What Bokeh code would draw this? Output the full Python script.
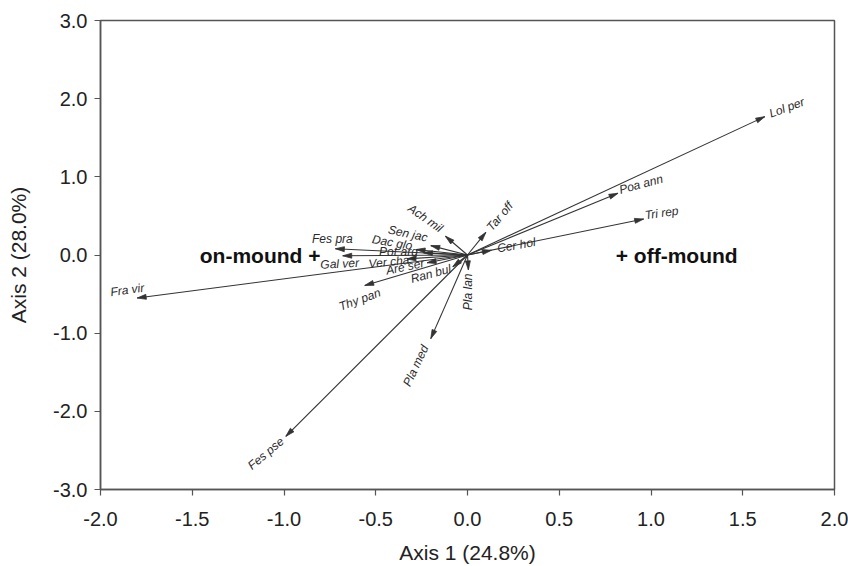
import numpy as np
from bokeh.plotting import figure
from bokeh.models import Range1d, FixedTicker, ColumnDataSource, Label
from bokeh.core.properties import value
from bokeh.embed import file_html
from bokeh.resources import INLINE

# ---- data: species scores (arrow tips) ----
species = ["Lol per", "Poa ann", "Tri rep", "Cer hol", "Tar off", "Ach mil",
           "Sen jac", "Dac glo", "Pot arg", "Ver cha", "Are ser", "Ran bul",
           "Thy pan", "Pla lan", "Pla med", "Fes pse", "Fra vir", "Fes pra",
           "Gal ver"]
axis1 = [1.62, 0.82, 0.96, 0.13, 0.10, -0.12,
         -0.20, -0.28, -0.24, -0.33, -0.22, -0.08,
         -0.56, 0.005, -0.20, -0.99, -1.80, -0.72,
         -0.68]
axis2 = [1.77, 0.79, 0.46, 0.06, 0.29, 0.24,
         0.12, 0.07, 0.03, -0.05, -0.10, -0.15,
         -0.39, -0.19, -1.07, -2.32, -0.55, 0.08,
         -0.01]

groups = ["on-mound +", "+ off-mound"]
group_x = [-1.13, 1.14]
group_y = [0.0, 0.0]

xticks = [-2.0, -1.5, -1.0, -0.5, 0.0, 0.5, 1.0, 1.5, 2.0]
yticks = [-3.0, -2.0, -1.0, 0.0, 1.0, 2.0, 3.0]
xtick_labels = ["-2.0", "-1.5", "-1.0", "-0.5", "0.0", "0.5", "1.0", "1.5", "2.0"]
ytick_labels = ["-3.0", "-2.0", "-1.0", "0.0", "1.0", "2.0", "3.0"]
xlabel = "Axis 1 (24.8%)"
ylabel = "Axis 2 (28.0%)"

# ---- label styling (pixel offsets from tip, rotation in degrees) ----
style = {
    "Lol per": (22, -9, 20), "Poa ann": (23, -9, 15), "Tri rep": (18, -6, 8),
    "Cer hol": (25, -5, 10), "Tar off": (14, -16, 50), "Ach mil": (-20, -18, -35),
    "Sen jac": (-23, -12, -12), "Dac glo": (-24, -7, -10), "Pot arg": (-25, -1, 0),
    "Ver cha": (-18, 3, 6), "Are ser": (-22, 4, 12), "Ran bul": (-22, 7, 15),
    "Thy pan": (-5, 14, 20), "Pla lan": (0, 22, 90), "Pla med": (-15, 27, 65),
    "Fes pse": (-20, 17, 40), "Fra vir": (-10, -8, 8), "Fes pra": (-3, -10, 0),
    "Gal ver": (-3, 8, 3),
}

W, H = 848, 566
BL, BR, BT, BB = 100, 14, 20, 75
XR, YR = (-2.0, 2.0), (-3.0, 3.0)

p = figure(width=W, height=H, output_backend="svg", toolbar_location=None,
           x_range=Range1d(*XR), y_range=Range1d(*YR),
           min_border_left=BL, min_border_right=BR,
           min_border_top=BT, min_border_bottom=BB)
p.grid.visible = False
p.background_fill_color = "white"
p.border_fill_color = "white"
p.outline_line_color = "#555555"
p.outline_line_width = 1.5

for ax, ticks, labs in ((p.xaxis[0], xticks, xtick_labels), (p.yaxis[0], yticks, ytick_labels)):
    ax.ticker = FixedTicker(ticks=ticks)
    ax.major_label_overrides = {t: l for t, l in zip(ticks, labs)}
    ax.minor_tick_line_color = None
    ax.major_tick_in = 0
    ax.major_tick_out = 6
    ax.axis_line_color = "#555555"
    ax.axis_line_width = 1.5
    ax.major_tick_line_color = "#555555"
    ax.major_tick_line_width = 1.2
    ax.major_label_text_font = "Liberation Sans"
    ax.major_label_text_font_size = "20px"
    ax.major_label_text_color = "#222222"
    ax.axis_label_text_font = "Liberation Sans"
    ax.axis_label_text_font_size = "21px"
    ax.axis_label_text_font_style = "normal"
    ax.axis_label_text_color = "#222222"
p.xaxis.axis_label = xlabel
p.yaxis.axis_label = ylabel
p.xaxis.major_label_standoff = 16
p.yaxis.major_label_standoff = 7
p.xaxis.axis_label_standoff = 12
p.yaxis.axis_label_standoff = 20

# ---- arrows ----
x = np.array(axis1)
y = np.array(axis2)
sx = (W - BL - BR) / (XR[1] - XR[0])
sy = (H - BT - BB) / (YR[1] - YR[0])

p.segment(x0=0, y0=0, x1=x, y1=y, line_color="#333333", line_width=1.1)

hl, hw = 9.0, 2.5
head_xs, head_ys = [], []
for xi, yi in zip(x, y):
    dx, dy = xi * sx, yi * sy
    L = np.hypot(dx, dy)
    ux, uy = dx / L, dy / L
    bx, by = dx - hl * ux, dy - hl * uy
    nx, ny = -uy, ux
    pts = [(dx, dy), (bx + hw * nx, by + hw * ny), (bx - hw * nx, by - hw * ny)]
    head_xs.append([px_ / sx for px_, _ in pts])
    head_ys.append([py_ / sy for _, py_ in pts])
p.patches(head_xs, head_ys, fill_color="#333333", line_color="#333333", line_width=0.8)

# ---- species labels ----
src = ColumnDataSource(dict(
    x=x, y=y, text=species,
    xo=[style[s][0] for s in species],
    yo=[style[s][1] for s in species],
    ang=[np.deg2rad(style[s][2]) for s in species],
))
p.text(x="x", y="y", text="text", x_offset="xo", y_offset="yo", angle="ang",
       source=src, text_font=value("Liberation Sans"), text_font_style="italic",
       text_font_size="12px", text_color="#2a2a2a",
       text_align="center", text_baseline="middle")

# ---- group annotations ----
for g, gx, gy in zip(groups, group_x, group_y):
    p.add_layout(Label(x=gx, y=gy, text=g, text_font="Liberation Sans",
                       text_font_style="bold", text_font_size="21px",
                       text_color="#111111", text_align="center",
                       text_baseline="middle"))

open("out.html", "w").write(file_html(p, INLINE))
